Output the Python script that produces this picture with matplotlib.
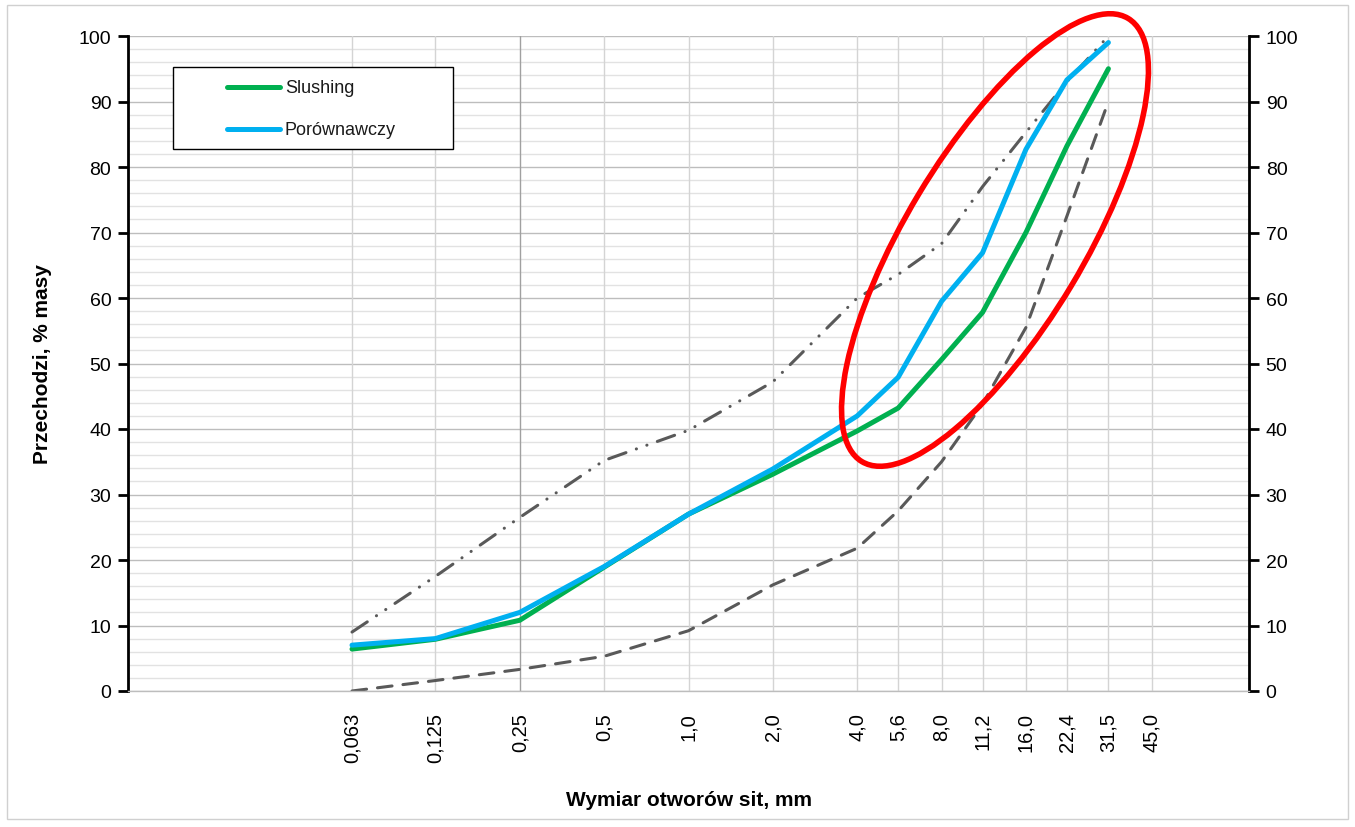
import matplotlib
matplotlib.use("Agg")
from matplotlib import pyplot as plt
from matplotlib.patches import Ellipse, Rectangle
from matplotlib.ticker import FixedLocator, NullLocator, MultipleLocator

plt.rcParams['font.family'] = ['Liberation Sans', 'DejaVu Sans']

# sieve sizes, mm
sieves = [0.063, 0.125, 0.25, 0.5, 1.0, 2.0, 4.0, 5.6, 8.0, 11.2, 16.0, 22.4, 31.5]
tick_sizes = sieves + [45.0]
tick_labels = ['0,063', '0,125', '0,25', '0,5', '1,0', '2,0', '4,0', '5,6',
               '8,0', '11,2', '16,0', '22,4', '31,5', '45,0']

slushing = [6.4, 7.9, 10.8, 18.9, 27.0, 33.1, 39.7, 43.2, 50.6, 57.8, 70.0, 83.2, 95.0]
porownawczy = [7.0, 8.0, 12.0, 19.0, 27.0, 33.9, 42.0, 47.9, 59.5, 66.9, 82.7, 93.3, 99.0]
upper_limit = [9.0, 17.5, 26.5, 35.2, 39.8, 47.2, 60.0, 63.6, 68.3, 77.0, 85.3, 93.0, 100.0]
lower_limit = [0.0, 1.6, 3.3, 5.3, 9.2, 16.2, 21.8, 27.5, 35.0, 43.8, 55.5, 72.5, 90.0]

series_names = ['Slushing', 'Porównawczy']
series_colors = ['#00b050', '#00b0f0']

GRID_MINOR = '#e2e2e2'
GRID_MAJOR = '#bdbdbd'
LIMIT_COLOR = '#595959'

W, H = 1355, 828
AX_L, AX_R, AX_T, AX_B = 128, 1249, 37, 692


def axfrac(px, py):
    # pixel position in the picture -> axes fraction
    return (px - AX_L) / (AX_R - AX_L), (AX_B - py) / (AX_B - AX_T)


fig = plt.figure(figsize=(W / 100, H / 100), dpi=100)
ax = fig.add_axes([AX_L / W, 1 - AX_B / H, (AX_R - AX_L) / W, (AX_B - AX_T) / H])

ax.set_xscale('log')
ax.set_xlim(0.01, 100)
ax.set_ylim(0, 100)

# horizontal grid
for v in range(0, 101, 2):
    ax.axhline(v, color=GRID_MAJOR if v % 10 == 0 else GRID_MINOR, lw=1.0, zorder=0)
# vertical grid at each sieve, the 0,25 one is darker
for s in tick_sizes:
    ax.axvline(s, color='#a0a0a0' if s == 0.25 else '#d4d4d4', lw=1.0, zorder=0)

ax.plot(sieves, upper_limit, color=LIMIT_COLOR, lw=2.2, dash_capstyle='round',
        dashes=(6.0, 3.6, 0.05, 3.6, 0.05, 3.6), zorder=2)
ax.plot(sieves, lower_limit, color=LIMIT_COLOR, lw=2.2, dash_capstyle='round',
        dashes=(4.8, 3.6), zorder=2)
ax.plot(sieves, slushing, color=series_colors[0], lw=3.6, solid_capstyle='round', zorder=3)
ax.plot(sieves, porownawczy, color=series_colors[1], lw=3.6, solid_capstyle='round', zorder=4)

# axes and ticks
ax.xaxis.set_major_locator(FixedLocator(tick_sizes))
ax.xaxis.set_minor_locator(NullLocator())
ax.set_xticklabels(tick_labels, rotation=90, fontsize=14.5)
ax.tick_params(axis='x', length=0, pad=15)
ax.yaxis.set_major_locator(MultipleLocator(10))
ax.tick_params(axis='y', which='major', direction='out', length=7, width=2,
               labelsize=14, left=True, right=True, labelleft=True, labelright=True, pad=5)

for side in ('left', 'right'):
    ax.spines[side].set_linewidth(2)
    ax.spines[side].set_color('black')
ax.spines['top'].set_visible(False)
ax.spines['bottom'].set_color(GRID_MAJOR)
ax.spines['bottom'].set_linewidth(1.0)

ax.set_xlabel('Wymiar otworów sit, mm', fontsize=15, fontweight='bold', labelpad=20)
ax.set_ylabel('Przechodzi, % masy', fontsize=15, fontweight='bold', labelpad=19)

# legend box, drawn by hand to get Excel's spacing
x0, y1 = axfrac(173, 68)
x1, y0 = axfrac(453, 150)
ax.add_patch(Rectangle((x0, y0), x1 - x0, y1 - y0, transform=ax.transAxes,
                       facecolor='white', edgecolor='black', lw=1.0, zorder=6))
for i, (name, col) in enumerate(zip(series_names, series_colors)):
    lx0, ly = axfrac(227, 88 + 42 * i)
    lx1, _ = axfrac(280, 88 + 42 * i)
    tx, _ = axfrac(285, 88 + 42 * i)
    ax.plot([lx0, lx1], [ly, ly], transform=ax.transAxes, color=col, lw=3.6,
            solid_capstyle='round', zorder=7)
    ax.text(tx, ly, name, transform=ax.transAxes, fontsize=13, color='#1a1a1a',
            va='center', ha='left', zorder=7)

# red highlight ellipse (annotation)
ell = Ellipse((9.95, (H - 241) / 100), width=5.17, height=1.78, angle=59,
              transform=fig.dpi_scale_trans, fill=False, edgecolor='#ff0000', lw=4.0,
              zorder=10)
fig.add_artist(ell)

# chart area border
fig.add_artist(Rectangle((7 / W, 8 / H), 1341 / W, 814 / H,
                         transform=fig.transFigure, fill=False,
                         edgecolor='#d0d0d0', lw=1.0))

fig.savefig('out.png', dpi=100)
